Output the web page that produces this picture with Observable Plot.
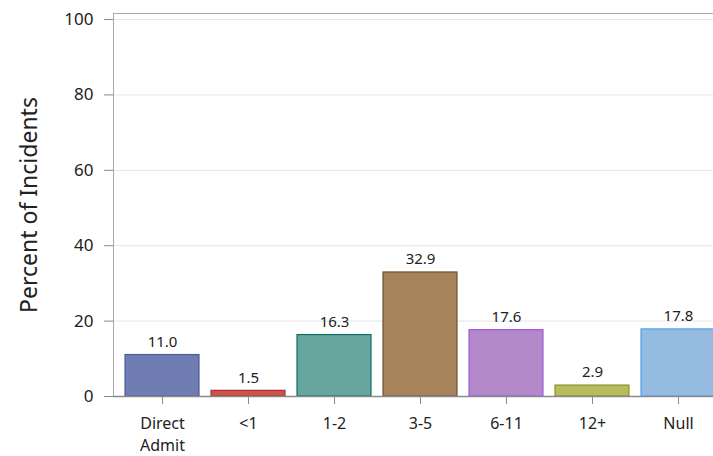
<!DOCTYPE html>
<html><head><meta charset="utf-8">
<script src="https://cdn.jsdelivr.net/npm/d3@7"></script>
<script src="https://cdn.jsdelivr.net/npm/@observablehq/plot@0.6"></script>
<style>
html,body{margin:0;padding:0;background:#fff;overflow:hidden;width:713px;height:456px}
#chart svg{max-width:none !important}
</style></head><body>
<div id="chart"></div>
<script>
const categories = ["Direct\nAdmit", "<1", "1-2", "3-5", "6-11", "12+", "Null"];
const values = [11.0, 1.5, 16.3, 32.9, 17.6, 2.9, 17.8];
const fills = ["#6f7db3", "#d0524d", "#66a69f", "#a6835a", "#b389c9", "#b9bc5c", "#95bbe1"];
const strokes = ["#4a5b9c", "#a83030", "#0d6b62", "#6e4e2c", "#a256e0", "#8d902a", "#4aa3f0"];
const yTicks = [0, 20, 40, 60, 80, 100];

const data = categories.map((c, i) => ({cat: c, v: values[i], fill: fills[i], stroke: strokes[i]}));

const chart = Plot.plot({
  width: 740, height: 456,
  marginLeft: 113, marginRight: 13, marginTop: 13, marginBottom: 60,
  style: {fontFamily: "Noto Sans, sans-serif", color: "#222", background: "#fff", maxWidth: "none"},
  x: {domain: categories, padding: 0.14, round: false, label: null},
  y: {domain: [0, 101.6], ticks: yTicks, label: null},
  marks: [
    Plot.gridY(yTicks, {stroke: "#e6e6e6", strokeOpacity: 1}),
    Plot.barY(data, {x: "cat", y: "v", fill: "fill", stroke: "stroke", strokeWidth: 1.2}),
    Plot.text(data, {x: "cat", y: "v", text: d => d.v.toFixed(1), dy: -13, fontSize: 15, fill: "#222"}),
    Plot.frame({stroke: "#a8a8a8"}),
    Plot.ruleY([0], {stroke: "#8a8a8a", strokeWidth: 1.5}),
    Plot.axisY(yTicks, {fontSize: 17, tickSize: 9, stroke: "#8a8a8a", tickPadding: 11, label: null, fill: "#222"}),
    Plot.axisX({fontSize: 16, tickSize: 8, stroke: "#8a8a8a", tickPadding: 9, label: null, fill: "#222", lineHeight: 1.36})
  ]
});
document.getElementById("chart").appendChild(chart);

// y-axis title
const svg = d3.select(chart);
svg.append("text")
  .attr("transform", "translate(37,205) rotate(-90)")
  .attr("text-anchor", "middle")
  .attr("font-family", "Noto Sans, sans-serif")
  .attr("font-size", 23)
  .attr("fill", "#222")
  .text("Percent of Incidents");
</script>
</body></html>
